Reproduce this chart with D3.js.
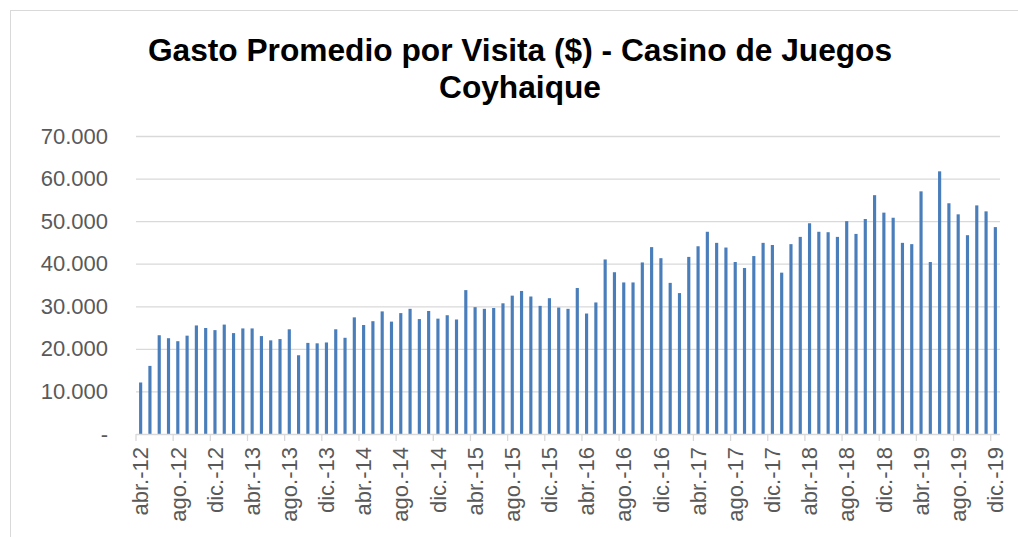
<!DOCTYPE html>
<html>
<head>
<meta charset="utf-8">
<script src="https://cdn.jsdelivr.net/npm/d3@7"></script>
<style>
  html, body { margin: 0; padding: 0; background: #fff; }
  svg { display: block; }
</style>
</head>
<body>
<svg id="chart" width="1018" height="537"></svg>
<script>
const years = ["12", "13", "14", "15", "16", "17", "18", "19"];
const monthNames = ["ene.", "feb.", "mar.", "abr.", "may.", "jun.", "jul.", "ago.", "sep.", "oct.", "nov.", "dic."];

// Monthly categories from abr.-12 to dic.-19
const categories = [];
years.forEach((y, yi) => {
  monthNames.forEach((m, mi) => {
    if (yi === 0 && mi < 3) return;
    categories.push(m + "-" + y);
  });
});

const values2012 = [12100, 16000, 23200, 22500, 21800, 23100, 25500, 24900, 24400];
const values2013 = [25700, 23700, 24800, 24800, 23000, 22000, 22300, 24600, 18500, 21400, 21300, 21500];
const values2014 = [24600, 22600, 27400, 25600, 26500, 28800, 26400, 28400, 29400, 27000, 28900, 27100];
const values2015 = [27900, 26900, 33800, 29800, 29400, 29600, 30700, 32500, 33600, 32300, 30100, 31900];
const values2016 = [29700, 29400, 34300, 28300, 30900, 41000, 38000, 35600, 35600, 40300, 43900, 41300];
const values2017 = [35500, 33100, 41600, 44100, 47500, 44900, 43800, 40400, 39000, 41800, 44900, 44400];
const values2018 = [37900, 44600, 46300, 49500, 47500, 47400, 46300, 50000, 47000, 50500, 56100, 52000];
const values2019 = [50800, 44900, 44600, 57000, 40400, 61700, 54200, 51600, 46700, 53700, 52300, 48600];

const values = [].concat(values2012, values2013, values2014, values2015, values2016, values2017, values2018, values2019);

const yTicks = [0, 10000, 20000, 30000, 40000, 50000, 60000, 70000];
const xTickLabels = categories.filter((c, i) => i % 4 === 0);

const titleLines = ["Gasto Promedio por Visita ($) - Casino de Juegos", "Coyhaique"];

const data = categories.map((c, i) => ({ cat: c, value: values[i] }));

const svg = d3.select("#chart");
const font = "'Liberation Sans', Arial, sans-serif";

// chart border
svg.append("rect")
  .attr("x", 10.5).attr("y", 10.5)
  .attr("width", 1020).attr("height", 540)
  .attr("fill", "#fff")
  .attr("stroke", "#d9d9d9")
  .attr("stroke-width", 1);

const plot = { left: 136, right: 1000, top: 136, bottom: 434 };

const x = d3.scaleBand()
  .domain(categories)
  .range([plot.left, plot.right])
  .paddingInner(0.66)
  .paddingOuter(0.33);

const y = d3.scaleLinear()
  .domain([0, 70000])
  .range([plot.bottom, plot.top]);

// title
const title = svg.append("text")
  .attr("font-family", font)
  .attr("font-weight", "bold")
  .attr("font-size", "31.7px")
  .attr("fill", "#000")
  .attr("text-anchor", "middle");
title.selectAll("tspan")
  .data(titleLines)
  .join("tspan")
  .attr("x", 520)
  .attr("y", (d, i) => i === 0 ? 61 : 97.5)
  .text(d => d);

// gridlines
const grid = d3.axisLeft(y)
  .tickValues(yTicks.filter(v => v > 0))
  .tickSize(-(plot.right - plot.left))
  .tickFormat("");
svg.append("g")
  .attr("transform", `translate(${plot.left},0)`)
  .call(grid)
  .call(g => g.select(".domain").remove())
  .call(g => g.selectAll("line").attr("stroke", "#d9d9d9").attr("stroke-width", 1.3));

// y labels
const fmt = v => v === 0 ? "-" : d3.format(",")(v).replace(/,/g, ".");
const yAxis = d3.axisLeft(y)
  .tickValues(yTicks)
  .tickSize(0)
  .tickPadding(28)
  .tickFormat(fmt);
svg.append("g")
  .attr("transform", `translate(${plot.left},0)`)
  .call(yAxis)
  .call(g => g.select(".domain").remove())
  .call(g => g.selectAll("text")
    .attr("font-family", font)
    .attr("font-size", "22px")
    .attr("fill", "#595959"));

// bars
svg.append("g")
  .selectAll("rect")
  .data(data)
  .join("rect")
  .attr("x", d => x(d.cat))
  .attr("y", d => y(d.value))
  .attr("width", x.bandwidth())
  .attr("height", d => y(0) - y(d.value))
  .attr("fill", "#4a7ebb");

// x axis baseline and ticks at category boundaries every 4 months
const step = x.step();
const xAxisG = svg.append("g");
xAxisG.append("line")
  .attr("x1", plot.left).attr("x2", plot.right)
  .attr("y1", plot.bottom + 0.5).attr("y2", plot.bottom + 0.5)
  .attr("stroke", "#d9d9d9").attr("stroke-width", 1.3);
xAxisG.selectAll("line.tick")
  .data(xTickLabels)
  .join("line")
  .attr("class", "tick")
  .attr("x1", d => x(d) - x.paddingOuter() * step)
  .attr("x2", d => x(d) - x.paddingOuter() * step)
  .attr("y1", plot.bottom)
  .attr("y2", plot.bottom + 7)
  .attr("stroke", "#d9d9d9").attr("stroke-width", 1.3);

// x labels (rotated)
xAxisG.selectAll("text")
  .data(xTickLabels)
  .join("text")
  .attr("transform", d => `translate(${x(d) + x.bandwidth() / 2},447) rotate(-90)`)
  .attr("text-anchor", "end")
  .attr("dy", "0.35em")
  .attr("font-family", font)
  .attr("font-size", "22px")
  .attr("fill", "#595959")
  .text(d => d);
</script>
</body>
</html>
